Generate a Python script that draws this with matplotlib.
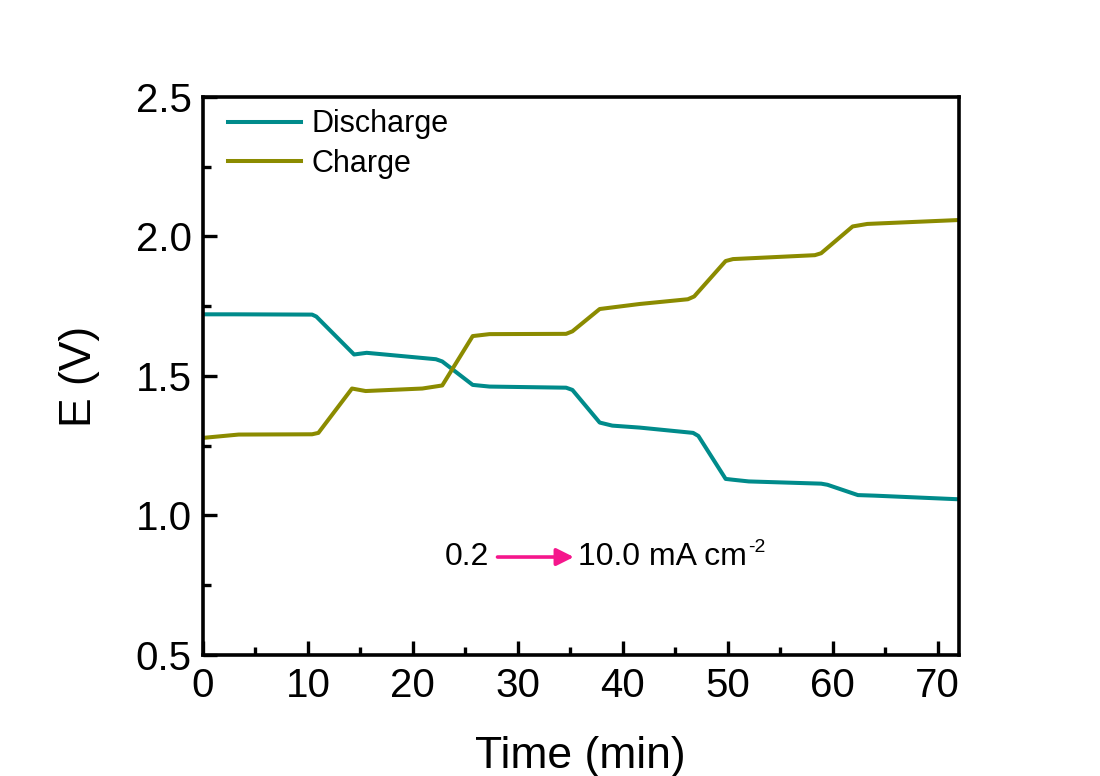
import matplotlib
matplotlib.use("Agg")
import matplotlib.pyplot as plt
from matplotlib.ticker import MultipleLocator, FormatStrFormatter
from matplotlib.transforms import offset_copy

plt.rcParams['font.family'] = ['Liberation Sans', 'DejaVu Sans']

dis_t = [0, 3, 10.4, 10.8, 14.4, 15.6, 22.2, 22.8, 25.7, 27.3, 34.6, 35.2, 37.8, 39.0, 41.6, 46.7, 47.2, 49.8, 50.5, 52, 58.9, 59.5, 62.4, 64, 72]
dis_v = [1.721, 1.721, 1.720, 1.713, 1.577, 1.583, 1.560, 1.552, 1.468, 1.462, 1.458, 1.450, 1.333, 1.322, 1.315, 1.296, 1.285, 1.131, 1.128, 1.122, 1.114, 1.110, 1.073, 1.071, 1.058]

chg_t = [0, 3.4, 10.4, 11.0, 14.2, 15.5, 20.9, 22.8, 25.7, 27.3, 34.6, 35.2, 37.8, 41.6, 46.2, 46.8, 49.8, 50.5, 58.3, 58.9, 61.9, 63.3, 72]
chg_v = [1.278, 1.290, 1.291, 1.296, 1.455, 1.446, 1.455, 1.466, 1.643, 1.650, 1.651, 1.660, 1.740, 1.758, 1.775, 1.785, 1.912, 1.919, 1.933, 1.940, 2.036, 2.045, 2.059]

fig = plt.figure(figsize=(11, 7.76), dpi=100)
ax = fig.add_axes([0.1845, 0.156, 0.687, 0.719])

ax.plot(dis_t, dis_v, color='#008B8B', lw=2.9, label='Discharge', solid_joinstyle='round')
ax.plot(chg_t, chg_v, color='#8B8B00', lw=2.9, label='Charge', solid_joinstyle='round')

ax.set_xlim(0, 72)
ax.set_ylim(0.5, 2.5)
ax.xaxis.set_major_locator(MultipleLocator(10))
ax.xaxis.set_minor_locator(MultipleLocator(5))
ax.yaxis.set_major_locator(MultipleLocator(0.5))
ax.yaxis.set_minor_locator(MultipleLocator(0.25))
ax.yaxis.set_major_formatter(FormatStrFormatter('%.1f'))

for s in ax.spines.values():
    s.set_linewidth(2.6)
ax.tick_params(which='both', direction='in', top=False, right=False, width=2.4)
ax.tick_params(which='major', length=10, labelsize=29)
ax.tick_params(axis='x', which='major', pad=9)
ax.tick_params(axis='y', which='major', pad=8)
ax.tick_params(which='minor', length=6)

ax.set_xlabel('Time (min)', fontsize=32, labelpad=22)
ax.set_ylabel('E (V)', fontsize=32, labelpad=26)

leg = ax.legend(loc='upper left', bbox_to_anchor=(0.017, 1.0), fontsize=22, frameon=False,
                handlelength=2.4, handletextpad=0.33, labelspacing=0.32, borderaxespad=0.0)

ax.annotate('', xy=(35.6, 0.851), xytext=(27.8, 0.851),
            arrowprops=dict(arrowstyle='-|>', color='#F5168C', lw=2.6, mutation_scale=26))
ax.text(27.3, 0.851, '0.2', fontsize=23, ha='right', va='center')
t = ax.text(35.7, 0.851, '10.0 mA cm', fontsize=23, ha='left', va='center')

fig.canvas.draw()
bb = t.get_window_extent()
inv = ax.transData.inverted()
x_end, y_top = inv.transform((bb.x1, bb.y1))
ax.text(x_end, y_top, '-2', fontsize=14, ha='left', va='top',
        transform=offset_copy(ax.transData, fig=fig, x=1, y=2, units='points'))

fig.savefig('out.png', dpi=100)
